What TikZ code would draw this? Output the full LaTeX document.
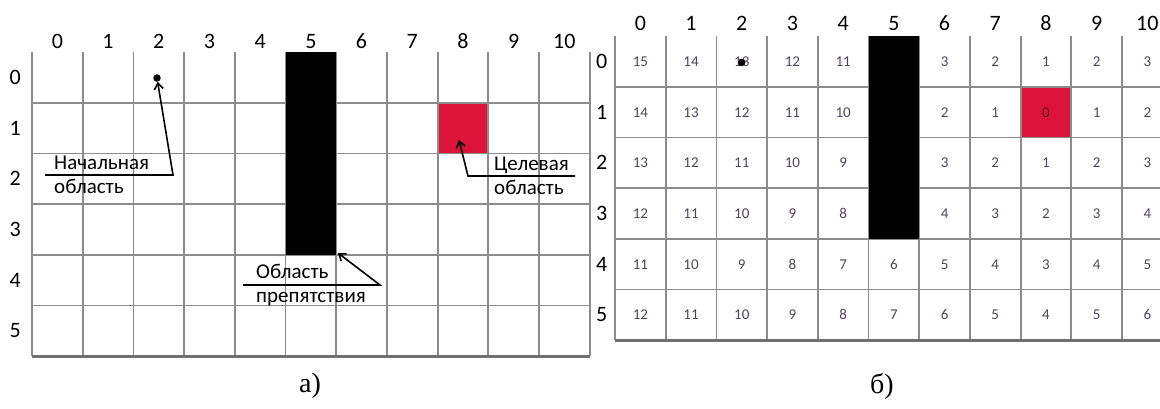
\documentclass[tikz,border=0pt]{standalone}
\usepackage{fontspec}
\setmainfont{Carlito}
\newfontfamily\capfont{Liberation Serif}
\usetikzlibrary{arrows.meta}

\definecolor{goalred}{RGB}{220,20,60}
\definecolor{gridgray}{RGB}{140,140,140}
\definecolor{valink}{RGB}{80,68,90}

\begin{document}
\begin{tikzpicture}[
    x=1pt, y=-1pt,
    every node/.style={inner sep=0pt, font=\fontsize{22}{26}\selectfont},
    idx/.style={text height=14pt, text depth=0pt},
    gridline/.style={draw=gridgray, line width=1.8pt},
    bottomline/.style={draw=gridgray!80!black, line width=2.8pt},
    lbl/.style={anchor=base west, font=\fontsize{21}{25}\selectfont},
    val/.style={font=\fontsize{15}{18}\selectfont, text=valink, text height=10pt, text depth=0pt},
    dotmark/.style={circle, fill=black, minimum size=7.5pt},
    pointer/.style={-{Straight Barb[length=6pt, width=9pt]}, line width=1.6pt},
    caption/.style={font=\capfont\fontsize{28}{32}\selectfont}
]
\useasboundingbox (0,0) rectangle (1160,408);
\clip (0,0) rectangle (1160,408);

% a) field with obstacle
\begin{scope}[shift={(32,52)}, x=50.7pt, y=-50.7pt]
  \fill[goalred] (8,1) rectangle (9,2);
  \foreach \r in {1,...,5}
    \draw[gridline] (0,\r) -- (11,\r);
  \foreach \c in {0,...,11}
    \draw[gridline] (\c,0) -- (\c,6);
  \draw[bottomline] (0,6) -- (11,6);
  \fill[black] (5,0) rectangle (6,4);
  \foreach \c in {0,...,10}
    \node[idx] (acol\c) at (\c+0.5,-0.2) {\c};
  \foreach \r in {0,...,5}
    \node[idx] (arow\r) at (-0.33,\r+0.5) {\r};
\end{scope}

\node[dotmark] (startdot) at (157,78) {};
\coordinate (goalpt) at (459,140);
\coordinate (obscorner) at (338,253);

% start
\node[lbl] (starttop) at (54,169) {Начальная};
\node[lbl] (startbot) at (54,193) {область};
\coordinate (startleft) at (45,175);
\coordinate (startkink) at (173,175);
\draw[pointer] (startleft) -- (startkink) -- (startdot);

% goal
\node[lbl] (goaltop) at (494,170) {Целевая};
\node[lbl] (goalbot) at (494,194) {область};
\coordinate (goalright) at (575,176);
\coordinate (goalleft) at (468,176);
\draw[pointer] (goalright) -- (goalleft) -- (goalpt);

% obstacle
\node[lbl] (obstop) at (256,278) {Область};
\node[lbl] (obsbot) at (256,302) {препятствия};
\coordinate (obsleft) at (243,285);
\coordinate (obsright) at (380,285);
\draw[pointer] (obsleft) -- (obsright) -- (obscorner);

\node[caption] (capa) at (310,386) {а)};

% b) distances to goal
\begin{scope}[shift={(615,36)}, x=50.7pt, y=-50.7pt]
  \fill[goalred] (8,1) rectangle (9,2);
  \foreach \r in {1,...,5}
    \draw[gridline] (0,\r) -- (12,\r);
  \foreach \c in {0,...,12}
    \draw[gridline] (\c,0) -- (\c,6);
  \draw[bottomline] (0,6) -- (12,6);
  \fill[black] (5,0) rectangle (6,4);
  \foreach \c in {0,...,10}
    \node[idx] (bcol\c) at (\c+0.5,-0.24) {\c};
  \foreach \r in {0,...,5}
    \node[idx] (brow\r) at (-0.26,\r+0.5) {\r};
  \foreach \vals [count=\r from 0] in {
      {15,14,13,12,11,,3,2,1,2,3},
      {14,13,12,11,10,,2,1,,1,2},
      {13,12,11,10,9,,3,2,1,2,3},
      {12,11,10,9,8,,4,3,2,3,4},
      {11,10,9,8,7,6,5,4,3,4,5},
      {12,11,10,9,8,7,6,5,4,5,6}}
    \foreach \v [count=\c from 0] in \vals
      \node[val] (v\r-\c) at (\c+0.5,\r+0.5) {\v};
  \node[val, text=goalred!45!black] (goalval) at (8.5,1.5) {0};
  \node[dotmark] (bdot) at (2.5,0.52) {};
\end{scope}

\node[caption] (capb) at (882,386) {б)};

\end{tikzpicture}
\end{document}
